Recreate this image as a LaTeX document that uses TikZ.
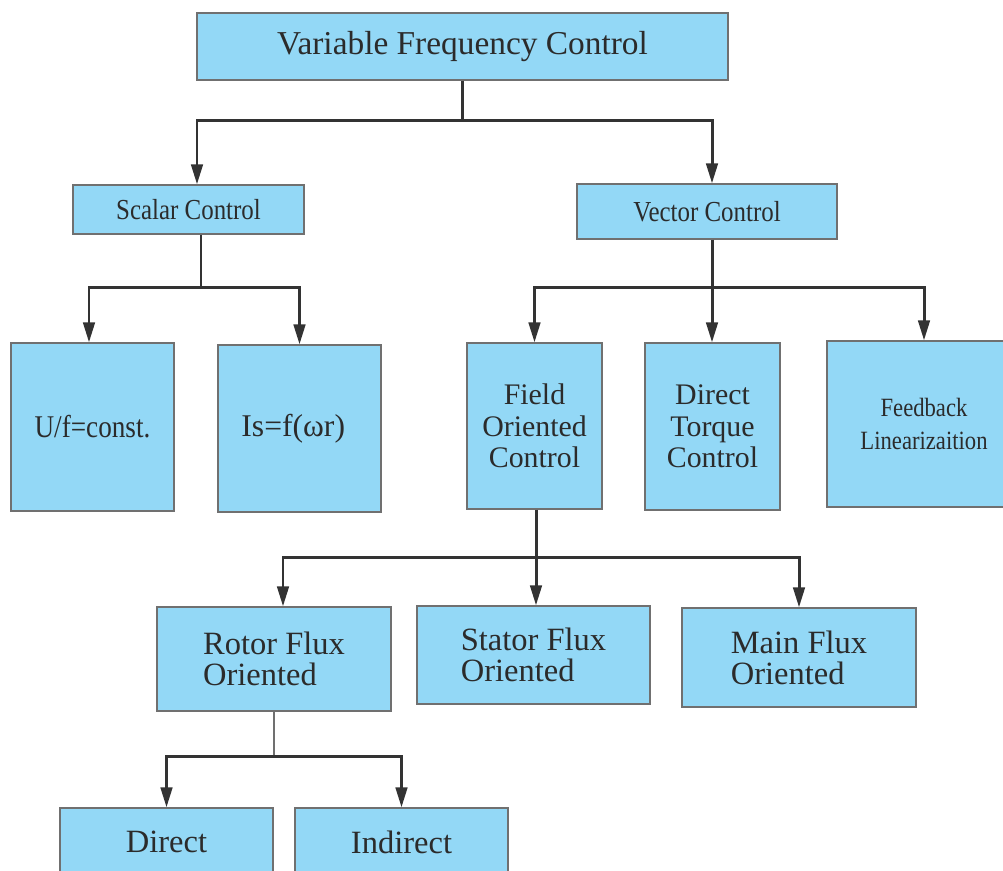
\documentclass[tikz,border=0pt]{standalone}
\usepackage{fontspec}
\setmainfont{Liberation Serif}
\newfontfamily\narrowfont[FakeStretch=0.86]{Liberation Serif}
\usetikzlibrary{arrows.meta}
\definecolor{boxfill}{HTML}{93D8F6}
\definecolor{boxline}{HTML}{707070}
\definecolor{branchcolor}{HTML}{333333}
\definecolor{labelcolor}{HTML}{2B2B2B}
\tikzset{ctrlbox/.style={rectangle,draw=boxline,fill=boxfill,line width=0.7pt,text=labelcolor,align=center,inner sep=0pt}}
\tikzset{branch/.style={draw=branchcolor,line width=1.7pt}}
\tikzset{arrowbranch/.style={branch,-{Triangle[length=0.4cm,width=0.23cm]}}}
\tikzset{thinbranch/.style={draw=boxline,line width=0.6pt}}

\begin{document}
\begin{tikzpicture}[x=0.02cm,y=-0.02cm]
\useasboundingbox (0,0) rectangle (1003,870);
\clip (0,0) rectangle (1003,870);

% nodes
\node [style = ctrlbox, minimum width=10.62cm, minimum height=1.34cm, font=\fontsize{19}{22}\selectfont] (vfc) at (462.5, 46.5) {Variable Frequency Control};
\node [style = ctrlbox, minimum width=4.62cm, minimum height=0.98cm, font=\narrowfont\fontsize{16.5}{19}\selectfont] (scalar) at (188.5, 209.5) {Scalar Control};
\node [style = ctrlbox, minimum width=5.2cm, minimum height=1.1cm, font=\narrowfont\fontsize{16.5}{19}\selectfont] (vector) at (707, 211.5) {Vector Control};
\node [style = ctrlbox, minimum width=3.26cm, minimum height=3.36cm, font=\narrowfont\fontsize{18}{20}\selectfont] (uf) at (92.5, 427) {U/f=const.};
\node [style = ctrlbox, minimum width=3.26cm, minimum height=3.34cm, font=\fontsize{18}{20}\selectfont] (isf) at (299.5, 428.5) {Is=f(ωr)\hspace*{0.25cm}};
\node [style = ctrlbox, minimum width=2.7cm, minimum height=3.32cm, font=\fontsize{17}{17.8}\selectfont] (foc) at (534.5, 426) {Field\\Oriented\\Control};
\node [style = ctrlbox, minimum width=2.7cm, minimum height=3.34cm, font=\fontsize{17}{17.8}\selectfont] (dtc) at (712.5, 426.5) {Direct\\Torque\\Control};
\node [style = ctrlbox, minimum width=3.88cm, minimum height=3.32cm, font=\narrowfont\fontsize{15}{18.7}\selectfont] (fbl) at (924, 424) {Feedback\\Linearizaition};
\node [style = ctrlbox, align=left, minimum width=4.68cm, minimum height=2.08cm, font=\fontsize{18.5}{17.6}\selectfont] (rfo) at (274, 659) {Rotor Flux\\Oriented};
\node [style = ctrlbox, align=left, minimum width=4.66cm, minimum height=1.96cm, font=\fontsize{18.5}{17.6}\selectfont] (sfo) at (533.5, 655) {Stator Flux\\Oriented};
\node [style = ctrlbox, align=left, minimum width=4.68cm, minimum height=1.98cm, font=\fontsize{18.5}{17.6}\selectfont] (mfo) at (799, 657.5) {Main Flux\\Oriented};
\node [style = ctrlbox, minimum width=4.26cm, minimum height=1.36cm, font=\fontsize{18.5}{21}\selectfont] (dir) at (166.5, 842) {Direct};
\node [style = ctrlbox, minimum width=4.26cm, minimum height=1.36cm, font=\fontsize{18.5}{21}\selectfont] (ind) at (401.5, 842) {Indirect};

% junctions
\coordinate (vfcj) at (462.5, 120);
\coordinate (scj) at (201, 287);
\coordinate (vcj) at (712, 287);
\coordinate (focj) at (536, 557);
\coordinate (rfoj) at (274, 756);

% edges
\draw [style = branch] (vfc.south) to (vfcj);
\draw [style = arrowbranch] (vfcj) -| ([xshift=0.17cm]scalar.north);
\draw [style = arrowbranch] (vfcj) -| ([xshift=0.1cm]vector.north);

\draw [style = branch] (scalar.south -| scj) to (scj);
\draw [style = arrowbranch] (scj) -| ([xshift=-0.07cm]uf.north);
\draw [style = arrowbranch] (scj) -| (isf.north);

\draw [style = branch] (vector.south -| vcj) to (vcj);
\draw [style = arrowbranch] (vcj) -| (foc.north);
\draw [style = arrowbranch] (vcj) -- (dtc.north -| vcj);
\draw [style = arrowbranch] (vcj) -| (fbl.north);

\draw [style = branch] (foc.south -| focj) to (focj);
\draw [style = arrowbranch] (focj) -| ([xshift=0.18cm]rfo.north);
\draw [style = arrowbranch] (focj) -- (sfo.north -| focj);
\draw [style = arrowbranch] (focj) -| (mfo.north);

\draw [style = thinbranch] (rfo.south) to (rfoj);
\draw [style = arrowbranch] (rfoj) -| (dir.north);
\draw [style = arrowbranch] (rfoj) -| (ind.north);
\end{tikzpicture}
\end{document}
